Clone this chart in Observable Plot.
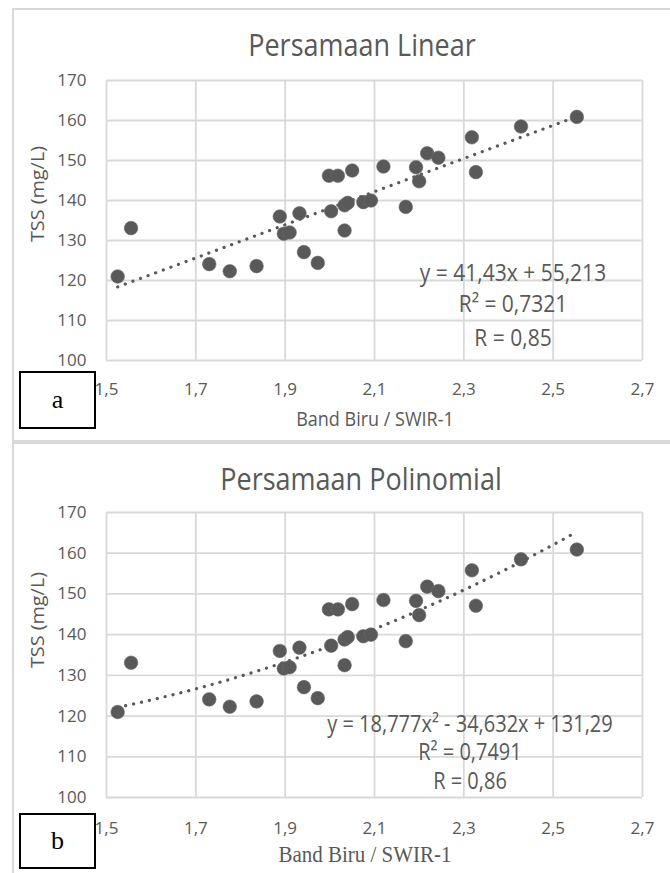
<!DOCTYPE html>
<html>
<head>
<meta charset="utf-8">
<script src="https://cdn.jsdelivr.net/npm/d3@7"></script>
<script src="https://cdn.jsdelivr.net/npm/@observablehq/plot@0.6"></script>
<style>
  html, body { margin: 0; padding: 0; background: #fff; }
  #page { position: relative; width: 670px; height: 873px; overflow: hidden; background: #fff; font-family: "Open Sans", sans-serif; color: #595959; }
  .frame { position: absolute; border: 2px solid #d9d9d9; box-sizing: border-box; }
  .title { position: absolute; transform: translate(-50%, -50%) scaleY(1.15); white-space: nowrap; font-size: 27px; color: #595959; }
  .ytitle { position: absolute; transform: translate(-50%, -50%) rotate(-90deg) scaleX(1.1); white-space: nowrap; font-size: 18px; color: #595959; }
  .xtitle { position: absolute; transform: translate(-50%, -50%) scaleY(1.12); white-space: nowrap; font-size: 18px; color: #595959; }
  .eq { position: absolute; transform: translate(-50%, -50%) scaleY(1.15); white-space: nowrap; font-size: 21px; color: #595959; }
  .box { position: absolute; border: 2px solid #000; background: #fff; box-sizing: border-box; font-family: "Liberation Serif", "DejaVu Serif", serif; font-size: 26px; color: #000; display: flex; align-items: center; justify-content: center; }
  svg { position: absolute; left: 0; }
</style>
</head>
<body>
<div id="page"></div>
<script>
// ---- data ----
const bandRatio = [1.525, 1.555, 1.730, 1.776, 1.836, 1.888, 1.897, 1.910, 1.932, 1.942,
                   1.973, 2.003, 1.998, 2.018, 2.033, 2.033, 2.040, 2.050, 2.075, 2.092,
                   2.120, 2.170, 2.193, 2.200, 2.218, 2.243, 2.318, 2.327, 2.428, 2.553];
const tss       = [121.0, 133.1, 124.1, 122.3, 123.6, 136.0, 131.7, 132.0, 136.8, 127.1,
                   124.4, 137.3, 146.2, 146.2, 132.5, 138.8, 139.4, 147.5, 139.6, 140.0,
                   148.5, 138.4, 148.3, 144.8, 151.8, 150.7, 155.8, 147.1, 158.5, 160.9];
const yTicks = [100, 110, 120, 130, 140, 150, 160, 170];
const xTicks = [1.5, 1.7, 1.9, 2.1, 2.3, 2.5, 2.7];
const linearCoef = [41.43, 55.213];            // y = a x + b
const polyCoef = [18.777, -34.632, 131.29];    // y = a x^2 + b x + c
const chartTitles = ["Persamaan Linear", "Persamaan Polinomial"];
const panelLetters = ["a", "b"];
const xTitle = "Band Biru / SWIR-1";
const yTitle = "TSS (mg/L)";
const eqLinear = ["y = 41,43x + 55,213", "R² = 0,7321", "R = 0,85"];
const eqPoly = ["y = 18,777x² - 34,632x + 131,29", "R² = 0,7491", "R = 0,86"];

const points = bandRatio.map((x, i) => ({x, y: tss[i]}));
const xMin = d3.min(bandRatio), xMax = d3.max(bandRatio);
const linearFit = [xMin, xMax].map(x => ({x, y: linearCoef[0] * x + linearCoef[1]}));
const polyFit = d3.range(0, 61).map(i => {
  const x = xMin + (xMax - xMin) * i / 60;
  return {x, y: polyCoef[0] * x * x + polyCoef[1] * x + polyCoef[2]};
});

const grey = "#595959";
const gridColor = "#d9d9d9";
const fmtX = d => d.toFixed(1).replace(".", ",");

function makePlot({height, marginTop, marginBottom, fit, xPad}) {
  return Plot.plot({
    width: 670,
    height,
    marginTop,
    marginBottom,
    marginLeft: 106,
    marginRight: 28,
    x: {domain: [1.5, 2.7], axis: null},
    y: {domain: [100, 170], axis: null},
    style: {fontFamily: "Open Sans, sans-serif", fontSize: "17px", color: grey, background: "transparent", overflow: "visible"},
    marks: [
      Plot.gridY(yTicks, {stroke: gridColor, strokeOpacity: 1, strokeWidth: 1.8}),
      Plot.gridX(xTicks, {stroke: gridColor, strokeOpacity: 1, strokeWidth: 1.8}),
      Plot.axisY(yTicks, {tickSize: 0, tickPadding: 20, tickFormat: d => String(d), label: null, fill: grey, fontSize: 17}),
      Plot.axisX(xTicks, {tickSize: 0, tickPadding: xPad, tickFormat: fmtX, label: null, fill: grey, fontSize: 17}),
      Plot.line(fit, {x: "x", y: "y", stroke: grey, strokeWidth: 3.2, strokeDasharray: "0.1,8", strokeLinecap: "round"}),
      Plot.dot(points, {x: "x", y: "y", r: 6.8, fill: grey, stroke: "#6a6a6a", strokeWidth: 0.6})
    ]
  });
}

const page = document.getElementById("page");
function add(cls, text, css) {
  const el = document.createElement("div");
  el.className = cls;
  el.textContent = text;
  Object.assign(el.style, css);
  page.appendChild(el);
  return el;
}

// frames
add("frame", "", {left: "12px", top: "8px", width: "662px", height: "434px"});
add("frame", "", {left: "12px", top: "442px", width: "662px", height: "440px"});

// panel a
const svgA = makePlot({height: 442, marginTop: 80, marginBottom: 82, fit: linearFit, xPad: 22});
svgA.style.top = "0px";
page.appendChild(svgA);
// panel b
const svgB = makePlot({height: 431, marginTop: 70, marginBottom: 76, fit: polyFit, xPad: 24});
svgB.style.top = "442px";
page.appendChild(svgB);

// titles
add("title", chartTitles[0], {left: "362px", top: "44px"});
add("title", chartTitles[1], {left: "361px", top: "478px"});
// axis titles
add("ytitle", yTitle, {left: "37px", top: "194px"});
add("ytitle", yTitle, {left: "37px", top: "620px"});
add("xtitle", xTitle, {left: "375px", top: "418px"});
add("xtitle", xTitle, {left: "365px", top: "855px", fontFamily: "'Liberation Serif', 'DejaVu Serif', serif", fontSize: "21px"});
// equations
eqLinear.forEach((t, i) => add("eq", t, {left: "513px", top: [272, 303, 337][i] + "px"}));
eqPoly.forEach((t, i) => add("eq", t, {left: "470px", top: [723, 751, 780][i] + "px", fontSize: "20px"}));
// letter boxes
add("box", panelLetters[0], {left: "19px", top: "371px", width: "77px", height: "58px"});
add("box", panelLetters[1], {left: "19px", top: "813px", width: "77px", height: "56px"});
</script>
</body>
</html>
